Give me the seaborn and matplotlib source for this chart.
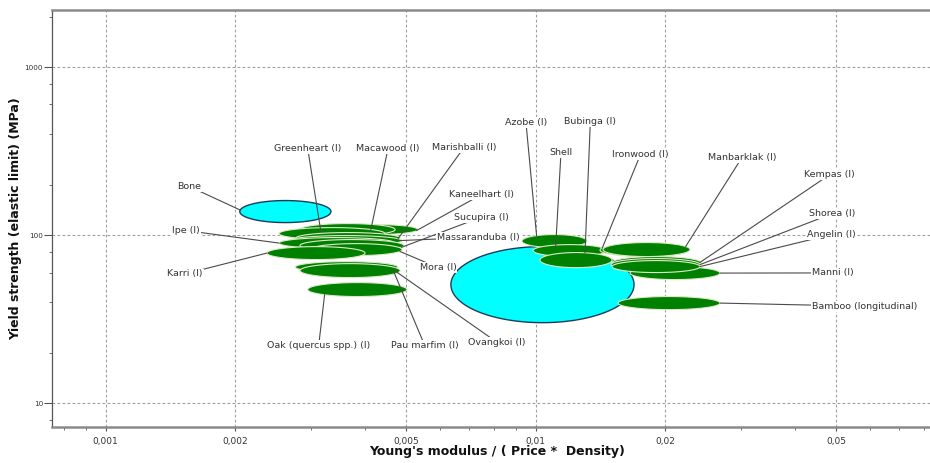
import numpy as np
import matplotlib
matplotlib.use("Agg")
import matplotlib.pyplot as plt
from matplotlib.ticker import FixedLocator, FixedFormatter, LogLocator, NullFormatter
import seaborn as sns

# ---- material property ranges (drawing order = list order) ----
materials = [
    "Bone", "Kaneelhart (l)", "Macawood (l)", "Greenheart (l)", "Marishballi (l)",
    "Massaranduba (l)", "Ipe (l)", "Sucupira (l)", "Mora (l)", "Karri (l)",
    "Ovangkoi (l)", "Pau marfim (l)", "Oak (quercus spp.) (l)", "",
    "Azobe (l)", "Shell", "Bubinga (l)", "Ironwood (l)", "Manbarklak (l)",
    "Manni (l)", "Kempas (l)", "Shorea (l)", "Angelin (l)", "Bamboo (longitudinal)",
]
# Young's modulus / (price * density), low and high
modulus_lo = [0.00205, 0.00341, 0.00283, 0.00253, 0.00277, 0.00268, 0.00253, 0.00283,
              0.00299, 0.00237, 0.00276, 0.00283, 0.00295, 0.00635, 0.00929, 0.00986,
              0.01023, 0.01411, 0.01434, 0.01657, 0.01505, 0.01497, 0.01505, 0.01554]
modulus_hi = [0.00334, 0.00532, 0.00471, 0.00446, 0.00484, 0.00489, 0.00471, 0.00494,
              0.00489, 0.00401, 0.00478, 0.00484, 0.00502, 0.01693, 0.01316, 0.01465,
              0.01505, 0.02261, 0.02285, 0.02683, 0.02424, 0.02411, 0.02411, 0.02683]
# Yield strength (MPa), low and high
strength_lo = [119.0, 101.0, 99.6, 94.3, 89.2, 86.8, 83.3, 80.0, 75.7, 71.7, 60.0, 56.0,
               43.2, 30.2, 84.5, 74.7, 64.2, 74.7, 74.7, 54.5, 63.3, 61.6, 60.0, 36.1]
strength_hi = [160.9, 115.8, 117.4, 111.1, 103.8, 99.6, 96.9, 94.3, 89.2, 85.6, 69.7, 67.8,
               52.3, 85.6, 101.0, 88.0, 78.9, 89.2, 90.5, 65.1, 74.7, 72.7, 70.7, 43.2]
family = ["natural"] + ["wood"] * 12 + ["natural"] + ["wood"] * 10

# ---- label placement: text position (data) and leader anchor on the ellipse (u, v) ----
label_layout = {
    "Bone": (0.001566, 194.9, -0.98, 0.12),
    "Greenheart (l)": (0.00295, 328.0, -0.21, 0.33),
    "Macawood (l)": (0.004535, 328.0, 0.49, 0.0),
    "Marishballi (l)": (0.00681, 332.7, 0.96, -0.1),
    "Kaneelhart (l)": (0.00748, 174.7, 0.97, -0.2),
    "Sucupira (l)": (0.00746, 128.0, 0.95, -0.3),
    "Massaranduba (l)": (0.00736, 97.3, 0.96, 0.0),
    "Ipe (l)": (0.001537, 106.7, -1.0, 0.0),
    "Karri (l)": (0.001529, 58.9, -1.0, 0.0),
    "Mora (l)": (0.00593, 64.2, 0.95, -0.3),
    "Oak (quercus spp.) (l)": (0.003128, 22.06, -0.66, -0.71),
    "Pau marfim (l)": (0.00552, 22.06, 0.88, -0.3),
    "Ovangkoi (l)": (0.00813, 23.07, 0.9, -0.4),
    "Azobe (l)": (0.00949, 470.6, -0.55, 0.83),
    "Shell": (0.01145, 311.9, -0.39, 0.5),
    "Bubinga (l)": (0.0134, 477.0, 0.25, 0.95),
    "Ironwood (l)": (0.01752, 302.2, -0.95, 0.3),
    "Manbarklak (l)": (0.0302, 291.2, 0.9, 0.44),
    "Kempas (l)": (0.0483, 229.8, 0.98, 0.05),
    "Shorea (l)": (0.0488, 134.1, 1.0, 0.0),
    "Angelin (l)": (0.0488, 101.0, 1.0, 0.0),
    "Manni (l)": (0.0491, 59.7, 1.0, 0.0),
    "Bamboo (longitudinal)": (0.0583, 37.8, 1.0, 0.0),
}

x_major = [0.001, 0.002, 0.005, 0.01, 0.02, 0.05]
x_major_labels = ["0,001", "0,002", "0,005", "0,01", "0,02", "0,05"]
y_major = [10, 100, 1000]
y_major_labels = ["10", "100", "1000"]

styles = {
    "wood": dict(face="#008000", edge="#dfe9c8", lw=0.8),
    "natural": dict(face="#00ffff", edge="#1d3c5a", lw=1.0),
}

sns.set_theme(style="white")
plt.rcParams["font.family"] = ["DejaVu Sans"]

fig = plt.figure(figsize=(9.30, 4.63), dpi=100)
ax = fig.add_axes([52 / 930, 1 - 427 / 463, 1 - 52 / 930, (427 - 10) / 463])
ax.set_xscale("log")
ax.set_yscale("log")
ax.set_xlim(0.00075, 0.0826)
ax.set_ylim(7.23, 2190)

t = np.linspace(0, 2 * np.pi, 240)


def ellipse_geom(i):
    lx0, lx1 = np.log10(modulus_lo[i]), np.log10(modulus_hi[i])
    ly0, ly1 = np.log10(strength_lo[i]), np.log10(strength_hi[i])
    return (lx0 + lx1) / 2, (lx1 - lx0) / 2, (ly0 + ly1) / 2, (ly1 - ly0) / 2


for i, name in enumerate(materials):
    cx, rx, cy, ry = ellipse_geom(i)
    st = styles[family[i]]
    ax.fill(10 ** (cx + rx * np.cos(t)), 10 ** (cy + ry * np.sin(t)),
            facecolor=st["face"], edgecolor=st["edge"], linewidth=st["lw"], zorder=2 + i * 0.01)

for i, name in enumerate(materials):
    if name not in label_layout:
        continue
    lx, ly, u, v = label_layout[name]
    cx, rx, cy, ry = ellipse_geom(i)
    ex, ey = 10 ** (cx + rx * u), 10 ** (cy + ry * v)
    sns.lineplot(x=[lx, ex], y=[ly, ey], ax=ax, color="#4a4a4a", linewidth=0.8,
                 sort=False, estimator=None, zorder=3)
    ax.text(lx, ly, name, ha="center", va="center", fontsize=6.8, color="#333333",
            zorder=4, bbox=dict(facecolor="white", edgecolor="none", pad=0.6))

# grid and ticks
ax.set_axisbelow(True)
ax.xaxis.set_major_locator(FixedLocator(x_major))
ax.xaxis.set_major_formatter(FixedFormatter(x_major_labels))
ax.xaxis.set_minor_locator(LogLocator(base=10, subs=np.arange(1, 10)))
ax.xaxis.set_minor_formatter(NullFormatter())
ax.yaxis.set_major_locator(FixedLocator(y_major))
ax.yaxis.set_major_formatter(FixedFormatter(y_major_labels))
ax.yaxis.set_minor_locator(LogLocator(base=10, subs=(2, 4, 6, 8)))
ax.yaxis.set_minor_formatter(NullFormatter())
ax.grid(True, which="major", color="#a0a0a0", linestyle=(0, (2.5, 2)), linewidth=0.8)
ax.grid(False, which="minor")

ax.tick_params(axis="x", which="major", direction="out", length=3, width=0.8,
               color="#555555", labelsize=6.5, labelcolor="#333333", pad=4, bottom=True)
ax.tick_params(axis="x", which="minor", direction="out", length=2, width=0.6,
               color="#555555", bottom=True)
ax.tick_params(axis="y", which="major", direction="out", length=6, width=0.8,
               color="#555555", labelsize=5.2, labelcolor="#333333", pad=0.5, left=True)
ax.tick_params(axis="y", which="minor", direction="out", length=2, width=0.6,
               color="#555555", left=True)

for side in ("top", "bottom"):
    ax.spines[side].set_color("#8a8a8a")
    ax.spines[side].set_linewidth(1.8)
ax.spines["left"].set_color("#555555")
ax.spines["left"].set_linewidth(0.9)
ax.spines["right"].set_visible(False)

ax.set_xlabel("Young's modulus / ( Price *  Density)", fontsize=9, fontweight="bold", color="#111111")
ax.set_ylabel("Yield strength (elastic limit) (MPa)", fontsize=9, fontweight="bold", color="#111111")
ax.xaxis.set_label_coords(0.507, -0.043)
ax.yaxis.set_label_coords(-0.034, 0.5)

fig.savefig("out.png", dpi=100)
